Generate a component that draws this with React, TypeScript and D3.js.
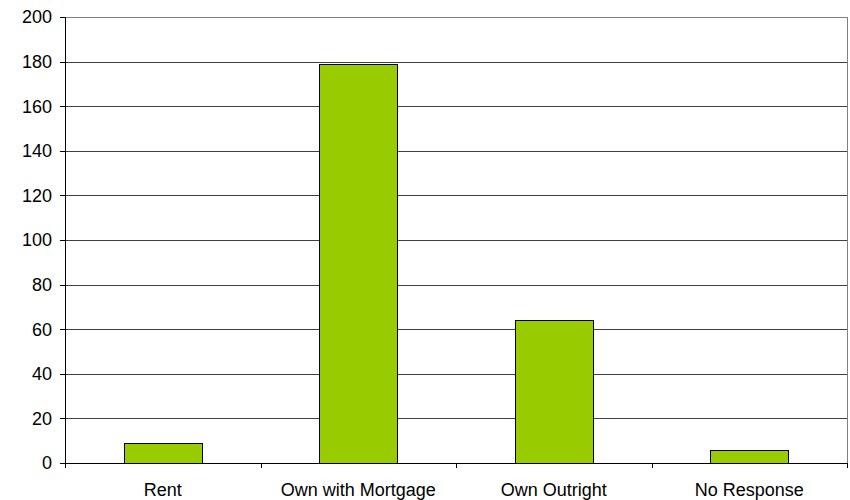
import React from "react";
import * as d3 from "d3";

const categories = ["Rent", "Own with Mortgage", "Own Outright", "No Response"];
const values = [9, 179, 64, 6];
const yTicks = [0, 20, 40, 60, 80, 100, 120, 140, 160, 180, 200];

export default function App() {
  const W = 850, H = 500;
  const left = 65, right = 847, top = 17, bottom = 463;
  const x = d3.scaleBand<string>().domain(categories).range([left, right]).paddingInner(0.6).paddingOuter(0.3);
  const band = d3.scaleBand<string>().domain(categories).range([left, right]);
  const y = d3.scaleLinear().domain([0, 200]).range([bottom, top]);
  const font = "'Liberation Sans', Arial, sans-serif";
  return (
    <svg width={W} height={H} style={{ position: "absolute", left: 0, top: 0, background: "#fff" }}>
      {yTicks.map((t) => (
        <g key={t}>
          {t > 0 && t < 200 && (
            <line x1={left} x2={right} y1={Math.round(y(t)) + 0.5} y2={Math.round(y(t)) + 0.5} stroke="#404040" strokeWidth={1} />
          )}
          <line x1={left - 5} x2={left} y1={Math.round(y(t)) + 0.5} y2={Math.round(y(t)) + 0.5} stroke="#000" />
          <text x={52} y={y(t)} dy="0.35em" textAnchor="end" fontFamily={font} fontSize={18} fill="#000">
            {t}
          </text>
        </g>
      ))}
      <line x1={left} x2={right} y1={top + 0.5} y2={top + 0.5} stroke="#808080" />
      <line x1={right + 0.5} x2={right + 0.5} y1={top} y2={bottom} stroke="#808080" />
      {categories.map((c, i) => (
        <rect key={c} x={Math.round(x(c)!) + 0.5} y={Math.round(y(values[i])) + 0.5} width={Math.round(x.bandwidth())} height={Math.round(bottom - y(values[i]))} fill="#99CC00" stroke="#000" strokeWidth={1} />
      ))}
      <line x1={left + 0.5} x2={left + 0.5} y1={top} y2={bottom} stroke="#000" />
      <line x1={left} x2={right} y1={bottom + 0.5} y2={bottom + 0.5} stroke="#000" />
      {[...categories.map((c) => band(c)!), right].map((tx, i) => (
        <line key={i} x1={Math.round(tx) + 0.5} x2={Math.round(tx) + 0.5} y1={bottom} y2={bottom + 5} stroke="#000" />
      ))}
      {categories.map((c) => (
        <text key={c} x={band(c)! + band.bandwidth() / 2} y={496} textAnchor="middle" fontFamily={font} fontSize={18} fill="#000">
          {c}
        </text>
      ))}
    </svg>
  );
}
